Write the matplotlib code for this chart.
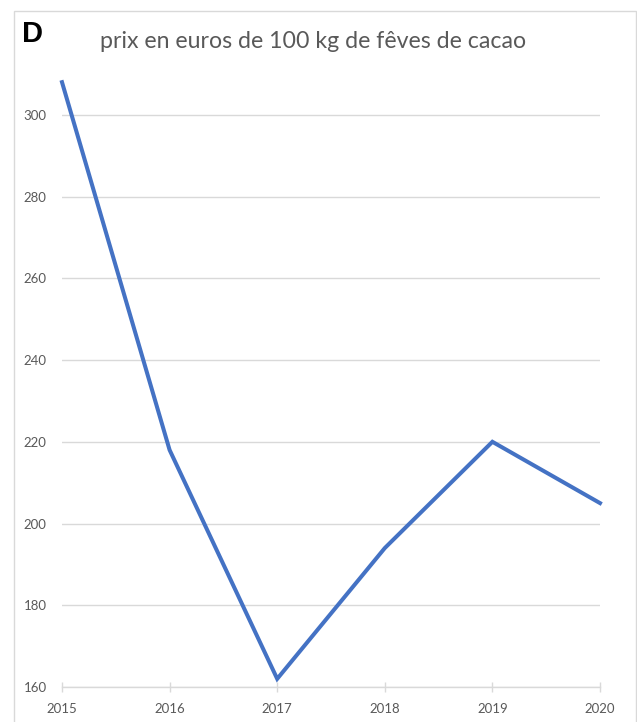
import numpy as np
import matplotlib
matplotlib.use("Agg")
import matplotlib.pyplot as plt
from matplotlib.patches import Rectangle

years = [2015, 2016, 2017, 2018, 2019, 2020]
prices = [308, 218, 162, 194, 220, 205]
y_ticks = [160, 180, 200, 220, 240, 260, 280, 300]

W, H = 637, 722
fig = plt.figure(figsize=(W / 100, H / 100), dpi=100)
plt.rcParams['font.family'] = ['Lato', 'DejaVu Sans']

ax = fig.add_axes([62 / W, 1 - 687 / H, (600 - 62) / W, (687 - 74) / H])
ax.plot(years, prices, color='#4472C4', linewidth=2.9, solid_joinstyle='miter', clip_on=False)

ax.set_xlim(2015, 2020)
ax.set_ylim(160, 310)
ax.set_xticks(years)
ax.set_yticks(y_ticks)
ax.yaxis.grid(True, color='#d9d9d9', linewidth=1)
ax.set_axisbelow(True)
for s in ['top', 'right', 'left']:
    ax.spines[s].set_visible(False)
ax.spines['bottom'].set_color('#d9d9d9')
ax.spines['bottom'].set_linewidth(1)
ax.tick_params(axis='x', direction='inout', length=7.5, color='#d9d9d9', width=1,
               labelsize=9.5, labelcolor='#595959', pad=8)
ax.tick_params(axis='y', length=0, labelsize=9.5, labelcolor='#595959', pad=11)

fig.text(313 / W, 1 - 42 / H, 'prix en euros de 100 kg de fêves de cacao',
         ha='center', va='center', fontsize=16.7, color='#595959')
fig.text(22 / W, 1 - 20 / H, 'D', ha='left', va='top', fontsize=21,
         fontweight='bold', family='Liberation Sans', color='black')

fig.add_artist(Rectangle((13.5 / W, -0.1), (636 - 13.5) / W, 1.1 - 10.5 / H,
                         transform=fig.transFigure, fill=False,
                         edgecolor='#d9d9d9', linewidth=1))

fig.savefig('out.png', dpi=100)
